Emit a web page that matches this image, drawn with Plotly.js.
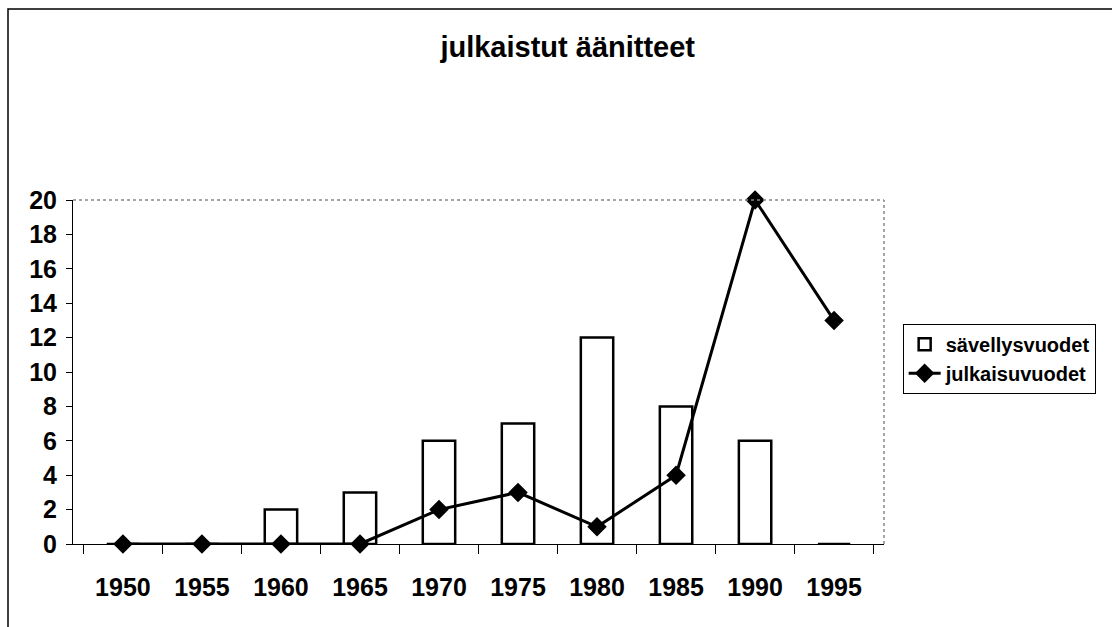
<!DOCTYPE html>
<html>
<head>
<meta charset="utf-8">
<script src="https://cdn.plot.ly/plotly-3.0.1.min.js"></script>
<style>html,body{margin:0;padding:0;background:#fff;}#chart{width:1112px;height:627px;}</style>
</head>
<body>
<div id="chart"></div>
<script>
const years = ["1950","1955","1960","1965","1970","1975","1980","1985","1990","1995"];
const savellysvuodet = [0,0,2,3,6,7,12,8,6,0];
const julkaisuvuodet = [0,0,0,0,2,3,1,4,20,13];

const font = "Liberation Sans, Arial, sans-serif";

const traces = [
  {
    type: "bar", name: "sävellysvuodet", x: years, y: savellysvuodet,
    marker: {color: "#ffffff", line: {color: "#000000", width: 2.5}},
    hoverinfo: "x+y"
  },
  {
    type: "scatter", mode: "lines+markers", name: "julkaisuvuodet", x: years, y: julkaisuvuodet,
    line: {color: "#000000", width: 3},
    marker: {symbol: "diamond", size: 15, color: "#000000"},
    cliponaxis: false
  }
];

const layout = {
  width: 1112, height: 627,
  paper_bgcolor: "#ffffff", plot_bgcolor: "#ffffff",
  margin: {l: 73, r: 228, t: 200, b: 83},
  font: {family: font, color: "#000000", size: 22},
  title: {text: "<b>julkaistut äänitteet</b>", font: {family: font, size: 29, color: "#000"},
          x: 0.61, xref: "paper", xanchor: "center", y: 0.925, yref: "container", yanchor: "middle"},
  bargap: 0.59,
  showlegend: true,
  legend: {x: 1.023, xanchor: "left", y: 0.64, yanchor: "top",
           bordercolor: "#000", borderwidth: 1, bgcolor: "#fff", itemwidth: 32,
           font: {family: font, size: 20, color: "#000", weight: "bold"}, tracegroupgap: 6},
  xaxis: {
    type: "category", showgrid: false, zeroline: false,
    showline: true, linecolor: "#000", linewidth: 1,
    ticks: "outside", ticklen: 9, tickcolor: "#000", tickwidth: 1,
    tickson: "boundaries", ticklabelstandoff: 21,
    tickfont: {family: font, size: 25, color: "#000", weight: "bold"},
    fixedrange: true
  },
  yaxis: {
    range: [0, 20], dtick: 2, showgrid: false, zeroline: false,
    showline: true, linecolor: "#000", linewidth: 1,
    ticks: "outside", ticklen: 6, tickcolor: "#000", tickwidth: 1,
    ticklabelstandoff: 4,
    tickfont: {family: font, size: 25, color: "#000", weight: "bold"}, fixedrange: true
  },
  shapes: [
    {type: "line", xref: "paper", yref: "paper", x0: 0, x1: 1, y0: 1, y1: 1,
     line: {color: "#888", width: 1.5, dash: "dot"}},
    {type: "line", xref: "paper", yref: "paper", x0: 1, x1: 1, y0: 0, y1: 1,
     line: {color: "#888", width: 1.5, dash: "dot"}},
    {type: "rect", xref: "paper", yref: "paper",
     x0: -65/811, x1: 1.4, y0: -0.3, y1: (544-9)/344,
     line: {color: "#000", width: 1.5}, fillcolor: "rgba(0,0,0,0)", layer: "below"}
  ]
};

Plotly.newPlot("chart", traces, layout, {displayModeBar: false, staticPlot: true});
</script>
</body>
</html>
